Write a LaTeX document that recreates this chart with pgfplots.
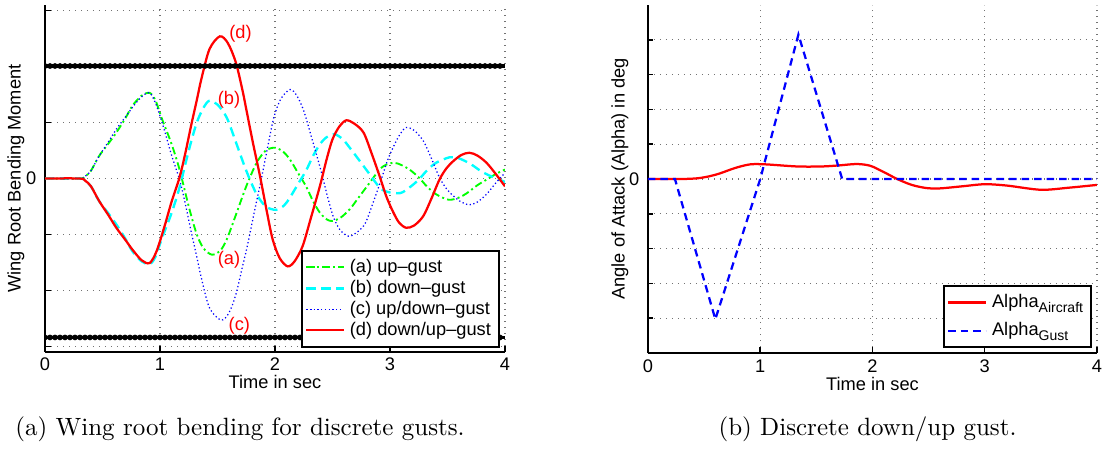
\documentclass[border=0pt]{standalone}
\usepackage{pgfplots}
\pgfplotsset{compat=1.18}
\usepackage{fontspec}
\newfontfamily\arial{Liberation Sans}
\newcommand{\af}{\arial\fontsize{7.3}{8.5}\selectfont}
\definecolor{mgreen}{rgb}{0,1,0}
\definecolor{mcyan}{rgb}{0,1,1}
\definecolor{mblue}{rgb}{0,0,1}
\definecolor{mred}{rgb}{1,0,0}

\pgfplotstableread{
t y
0.00 0.00
0.30 0.00
0.35 0.04
0.40 0.14
0.47 0.40
0.55 0.62
0.62 0.82
0.70 1.08
0.76 1.30
0.84 1.48
0.91 1.53
0.96 1.40
1.02 1.05
1.10 0.62
1.17 0.16
1.25 -0.50
1.32 -1.00
1.38 -1.25
1.45 -1.36
1.52 -1.30
1.58 -1.09
1.66 -0.65
1.75 -0.14
1.84 0.28
1.92 0.50
2.00 0.55
2.07 0.48
2.13 0.34
2.20 0.10
2.27 -0.14
2.33 -0.40
2.39 -0.61
2.45 -0.73
2.50 -0.76
2.57 -0.70
2.65 -0.55
2.72 -0.36
2.80 -0.14
2.91 0.16
2.97 0.25
3.04 0.28
3.10 0.24
3.17 0.16
3.25 0.02
3.32 -0.14
3.40 -0.28
3.51 -0.38
3.60 -0.34
3.67 -0.26
3.76 -0.12
3.84 -0.02
3.92 0.08
4.00 0.16
}\upgust

\pgfplotstableread{
t y
0.00 0.00
0.30 0.00
0.35 -0.04
0.40 -0.14
0.47 -0.40
0.55 -0.62
0.62 -0.82
0.70 -1.08
0.76 -1.30
0.84 -1.48
0.91 -1.53
0.96 -1.40
1.02 -1.05
1.10 -0.62
1.17 -0.16
1.25 0.50
1.32 1.00
1.38 1.27
1.43 1.39
1.50 1.32
1.58 1.09
1.66 0.65
1.75 0.14
1.84 -0.28
1.92 -0.50
2.01 -0.56
2.08 -0.48
2.13 -0.34
2.20 -0.10
2.27 0.14
2.33 0.40
2.39 0.61
2.45 0.74
2.52 0.79
2.59 0.70
2.65 0.55
2.72 0.36
2.80 0.14
2.91 -0.16
2.98 -0.24
3.09 -0.26
3.17 -0.16
3.25 -0.02
3.32 0.14
3.40 0.28
3.52 0.38
3.60 0.36
3.70 0.26
3.80 0.12
3.90 0.02
4.00 -0.06
}\downgust

\pgfplotstableread{
t y
0.00 0.00
0.30 0.00
0.35 0.04
0.40 0.14
0.47 0.40
0.55 0.65
0.62 0.88
0.70 1.10
0.76 1.27
0.84 1.46
0.91 1.53
0.97 1.30
1.04 0.85
1.10 0.42
1.17 -0.02
1.22 -0.45
1.27 -0.94
1.32 -1.40
1.36 -1.78
1.43 -2.31
1.53 -2.53
1.60 -2.40
1.66 -2.07
1.72 -1.55
1.76 -1.20
1.82 -0.60
1.88 -0.02
1.94 0.60
1.99 1.09
2.05 1.42
2.13 1.59
2.19 1.48
2.25 1.21
2.32 0.72
2.40 0.14
2.46 -0.35
2.51 -0.70
2.57 -0.93
2.64 -1.03
2.70 -0.98
2.78 -0.82
2.85 -0.45
2.92 -0.04
2.98 0.33
3.04 0.61
3.09 0.80
3.14 0.91
3.21 0.86
3.29 0.67
3.36 0.36
3.43 0.02
3.49 -0.18
3.55 -0.31
3.62 -0.42
3.69 -0.47
3.76 -0.42
3.84 -0.28
3.92 -0.08
4.00 0.10
}\updowngust

\pgfplotstableread{
t y
0.00 0.00
0.30 0.00
0.35 -0.04
0.40 -0.14
0.47 -0.40
0.55 -0.65
0.62 -0.88
0.70 -1.10
0.76 -1.27
0.84 -1.46
0.91 -1.51
0.97 -1.30
1.04 -0.85
1.10 -0.42
1.17 0.02
1.22 0.45
1.27 0.94
1.32 1.40
1.36 1.78
1.43 2.31
1.52 2.54
1.59 2.42
1.66 2.07
1.72 1.55
1.75 1.24
1.81 0.62
1.87 0.04
1.93 -0.60
1.98 -1.09
2.04 -1.42
2.11 -1.57
2.17 -1.48
2.24 -1.21
2.31 -0.72
2.39 -0.14
2.45 0.35
2.50 0.70
2.56 0.93
2.62 1.04
2.69 0.98
2.77 0.82
2.84 0.45
2.91 0.04
2.97 -0.33
3.03 -0.61
3.08 -0.79
3.14 -0.88
3.21 -0.84
3.29 -0.67
3.36 -0.36
3.43 -0.02
3.49 0.18
3.55 0.31
3.62 0.42
3.69 0.46
3.76 0.41
3.84 0.28
3.92 0.08
4.00 -0.14
}\downupgust

\pgfplotstableread{
t y
0.00 0.00
0.30 0.00
0.44 0.02
0.55 0.08
0.64 0.16
0.78 0.32
0.91 0.42
1.05 0.42
1.33 0.36
1.55 0.36
1.70 0.39
1.86 0.43
1.98 0.38
2.10 0.20
2.22 0.00
2.35 -0.17
2.48 -0.26
2.60 -0.27
2.80 -0.21
3.00 -0.15
3.20 -0.19
3.50 -0.31
3.75 -0.25
4.00 -0.17
}\alphaac

\pgfplotstableread{
t y
0.00 0.00
0.24 0.00
0.60 -4.03
1.00 0.00
1.34 4.15
1.73 0.00
4.00 0.00
}\alphagust

\pgfplotsset{
  mat/.style={
    scale only axis,
    anchor=south west,
    axis lines=left,
    axis line style={-, line width=0.85pt, black},
    xmin=0, xmax=4, xtick={0,1,2,3,4},
    grid=major,
    major grid style={dotted, line width=0.45pt, black!55},
    tick align=inside,
    major tick length=2.2pt,
    tick style={line width=0.6pt, black},
    /pgf/number format/assume math mode=true,
    ticklabel style={font=\af},
    xticklabel style={anchor=base, yshift=-7.6pt},
    label style={font=\af},
    xlabel={Time in sec},
    xlabel style={at={(rel axis cs:0.5,0)}, anchor=base, yshift=-14.8pt},
    legend cell align=left,
    legend style={font=\af, draw=black, line width=0.8pt, fill=white,
      inner sep=1.2pt, cells={anchor=west}},
    legend image code/.code={\draw[#1] plot coordinates {(0pt,0pt) (7.5pt,0pt) (15pt,0pt)};},
  }
}

\begin{document}
\begin{tikzpicture}
\begin{axis}[mat,
  at={(18pt,39.2pt)},
  width=184pt, height=138.8pt,
  ymin=-3.1, ymax=3.1,
  ytick={-3,-2,-1,0,1,2,3},
  yticklabels={,,,0,,,},
  ylabel={Wing Root Bending Moment},
  ylabel style={at={(rel axis cs:0,0.5)}, anchor=center, yshift=11.6pt},
  legend style={at={(rel axis cs:0.989,0.012)}, anchor=south east, row sep=-2.4pt},
]
\addplot[mgreen, smooth, tension=0.5, line width=0.75pt, dash pattern=on 3pt off 1.3pt on 0.8pt off 1.3pt] table {\upgust};
\addlegendentry{(a) up\textendash gust}
\addplot[mcyan, smooth, tension=0.5, line width=0.95pt, dash pattern=on 3.8pt off 2.2pt] table {\downgust};
\addlegendentry{(b) down\textendash gust}
\addplot[mblue, smooth, tension=0.5, line width=0.5pt, dash pattern=on 0.5pt off 1pt] table {\updowngust};
\addlegendentry{(c) up/down\textendash gust}
\addplot[mred, smooth, tension=0.5, line width=0.9pt] table {\downupgust};
\addlegendentry{(d) down/up\textendash gust}
\addplot[black, line width=1.5pt, forget plot] coordinates {(0,2.01) (4,2.01)};
\addplot[black, line width=2.3pt, line cap=round, dash pattern=on 0pt off 2pt, forget plot] coordinates {(0,2.01) (4,2.01)};
\addplot[black, line width=1.5pt, forget plot] coordinates {(0,-2.84) (4,-2.84)};
\addplot[black, line width=2.3pt, line cap=round, dash pattern=on 0pt off 2pt, forget plot] coordinates {(0,-2.84) (4,-2.84)};
\node[font=\af, text=mred] at (axis cs:1.70,2.58) {(d)};
\node[font=\af, text=mred] at (axis cs:1.60,1.41) {(b)};
\node[font=\af, text=mred] at (axis cs:1.60,-1.46) {(a)};
\node[font=\af, text=mred] at (axis cs:1.69,-2.63) {(c)};
\end{axis}

\begin{axis}[mat,
  at={(259.2pt,38.8pt)},
  width=179.6pt, height=139.2pt,
  ymin=-5, ymax=5,
  ytick={-4,-3,-2,-1,0,1,2,3,4},
  yticklabels={,,,,0,,,,},
  ylabel={Angle of Attack (Alpha) in deg},
  ylabel style={at={(rel axis cs:0,0.5)}, anchor=center, yshift=11.2pt},
  legend style={at={(rel axis cs:0.989,0.014)}, anchor=south east, row sep=0.5pt},
]
\addplot[mred, smooth, tension=0.5, line width=0.9pt] table {\alphaac};
\addlegendentry{Alpha\raisebox{-0.55ex}{\fontsize{5.6}{6}\selectfont Aircraft}}
\addplot[mblue, line width=0.9pt, dash pattern=on 3pt off 2pt] table {\alphagust};
\addlegendentry{Alpha\raisebox{-0.55ex}{\fontsize{5.6}{6}\selectfont Gust}}
\end{axis}

\node[anchor=base, font=\fontsize{10}{12}\selectfont] at (96pt,6pt) {(a) Wing root bending for discrete gusts.};
\node[anchor=base, font=\fontsize{10}{12}\selectfont] at (347pt,6pt) {(b) Discrete down/up gust.};

\pgfresetboundingbox
\useasboundingbox (0,0) rectangle (445.6pt,180pt);
\end{tikzpicture}
\end{document}
